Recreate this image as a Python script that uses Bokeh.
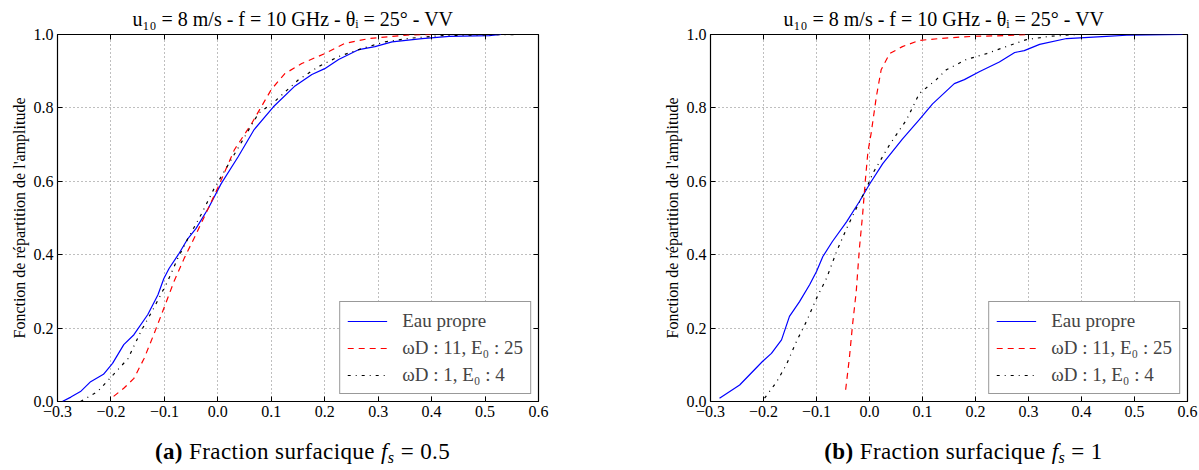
from bokeh.plotting import figure
from bokeh.models import (FixedTicker, LinearAxis, Legend, LegendItem, Div, Range1d,
                          CustomJSTickFormatter)
from bokeh.layouts import row, column
from bokeh.embed import file_html
from bokeh.resources import INLINE

# ---------------- data ----------------
x_ticks = [-0.3, -0.2, -0.1, 0.0, 0.1, 0.2, 0.3, 0.4, 0.5, 0.6]
x_tick_labels = ["\u22120.3", "\u22120.2", "\u22120.1", "0.0", "0.1", "0.2", "0.3", "0.4", "0.5", "0.6"]
y_ticks = [0.0, 0.2, 0.4, 0.6, 0.8, 1.0]
y_tick_labels = ["0.0", "0.2", "0.4", "0.6", "0.8", "1.0"]

title_text = "u\u2081\u2080 = 8 m/s - f = 10 GHz  - \u03b8\u1d62 = 25\u00b0  - VV"
y_label = "Fonction de r\u00e9partition de l'amplitude"
legend_labels = ["Eau propre", "\u03c9D : 11, E\u2080 : 25", "\u03c9D : 1, E\u2080 : 4"]

# (a) fs = 0.5
xa_eau = [-0.291, -0.275, -0.257, -0.238, -0.214, -0.197, -0.176, -0.157, -0.131, -0.112, -0.101,
          -0.091, -0.074, -0.056, -0.041, -0.018, 0.006, 0.038, 0.068, 0.104, 0.143, 0.176, 0.2,
          0.226, 0.264, 0.294, 0.326, 0.382, 0.433, 0.508, 0.53]
ya_eau = [0.0, 0.012, 0.027, 0.054, 0.074, 0.104, 0.155, 0.182, 0.237, 0.291, 0.335, 0.363, 0.4,
          0.444, 0.471, 0.526, 0.593, 0.667, 0.741, 0.803, 0.858, 0.891, 0.907, 0.932, 0.959,
          0.967, 0.98, 0.989, 0.995, 0.997, 1.0]
xa_w11 = [-0.195, -0.176, -0.157, -0.138, -0.12, -0.101, -0.082, -0.063, -0.041, -0.018, 0.001,
          0.031, 0.063, 0.1, 0.125, 0.157, 0.2, 0.238, 0.283, 0.326, 0.36, 0.4]
ya_w11 = [0.014, 0.036, 0.063, 0.117, 0.182, 0.254, 0.327, 0.39, 0.455, 0.526, 0.586, 0.686, 0.757,
          0.85, 0.893, 0.921, 0.948, 0.976, 0.989, 0.995, 0.999, 1.0]
xa_w1 = [-0.257, -0.225, -0.195, -0.168, -0.144, -0.12, -0.094, -0.075, -0.056, -0.031, -0.007,
         0.025, 0.076, 0.106, 0.151, 0.189, 0.226, 0.27, 0.313, 0.36, 0.42, 0.5, 0.56]
ya_w1 = [0.0, 0.027, 0.074, 0.117, 0.191, 0.254, 0.327, 0.39, 0.444, 0.51, 0.58, 0.659, 0.785,
         0.817, 0.877, 0.913, 0.94, 0.962, 0.98, 0.99, 0.997, 0.999, 1.0]

# (b) fs = 1
xb_eau = [-0.283, -0.245, -0.202, -0.185, -0.166, -0.151, -0.132, -0.113, -0.1, -0.088, -0.07,
          -0.043, -0.019, 0.0, 0.025, 0.062, 0.094, 0.119, 0.16, 0.179, 0.208, 0.245, 0.274, 0.292,
          0.321, 0.372, 0.447, 0.485, 0.594]
yb_eau = [0.009, 0.045, 0.109, 0.131, 0.168, 0.232, 0.272, 0.318, 0.354, 0.395, 0.436, 0.49,
          0.545, 0.592, 0.648, 0.715, 0.768, 0.811, 0.866, 0.877, 0.899, 0.925, 0.951, 0.956,
          0.973, 0.989, 0.995, 0.998, 1.0]
xb_w11 = [-0.045, -0.038, -0.032, -0.025, -0.019, -0.013, -0.008, -0.003, 0.003, 0.013, 0.022,
          0.038, 0.062, 0.094, 0.132, 0.194, 0.258, 0.296]
yb_w11 = [0.032, 0.118, 0.209, 0.3, 0.418, 0.509, 0.6, 0.68, 0.73, 0.831, 0.904, 0.948, 0.967,
          0.984, 0.989, 0.995, 0.997, 1.0]
xb_w1 = [-0.198, -0.175, -0.157, -0.138, -0.119, -0.1, -0.081, -0.062, -0.043, -0.025, -0.006,
         0.006, 0.038, 0.07, 0.094, 0.126, 0.145, 0.183, 0.221, 0.258, 0.296, 0.34, 0.39, 0.45]
yb_w1 = [0.009, 0.054, 0.1, 0.163, 0.218, 0.281, 0.336, 0.409, 0.472, 0.526, 0.58, 0.621, 0.7,
         0.768, 0.839, 0.877, 0.904, 0.932, 0.948, 0.967, 0.986, 0.995, 1.0, 1.0]

FONT = "Liberation Serif"


def make_panel(series, width, border_left, border_right):
    p = figure(width=width, height=433, output_backend="svg", toolbar_location=None,
               x_range=Range1d(-0.3, 0.6), y_range=Range1d(0.0, 1.0),
               min_border_left=border_left, min_border_right=border_right,
               min_border_top=34, min_border_bottom=32)
    p.title.text = title_text
    p.title.text_font = FONT
    p.title.text_font_size = "20px"
    p.title.text_font_style = "normal"
    p.title.align = "center"
    p.title.standoff = 9
    p.title.text_color = "black"
    p.outline_line_color = "black"
    p.outline_line_width = 1.2
    p.background_fill_color = "white"
    p.border_fill_color = "white"

    p.xaxis.ticker = FixedTicker(ticks=x_ticks)
    p.yaxis.ticker = FixedTicker(ticks=y_ticks)
    p.xaxis.formatter = CustomJSTickFormatter(code="return tick.toFixed(1).replace('-', '\u2212')")
    p.yaxis.formatter = CustomJSTickFormatter(code="return tick.toFixed(1)")
    p.xaxis.major_label_overrides = dict(zip(x_ticks, x_tick_labels))
    p.yaxis.major_label_overrides = dict(zip(y_ticks, y_tick_labels))
    for ax in (p.xaxis, p.yaxis):
        ax.major_tick_in = 5
        ax.major_tick_out = 0
        ax.minor_tick_line_color = None
        ax.axis_line_color = None
        ax.major_label_text_font = FONT
        ax.major_label_text_font_size = "16px"
        ax.major_label_text_color = "black"
        ax.major_label_standoff = 4
    p.yaxis.axis_label = y_label
    p.yaxis.axis_label_text_font = FONT
    p.yaxis.axis_label_text_font_size = "16px"
    p.yaxis.axis_label_text_font_style = "normal"
    p.yaxis.axis_label_text_color = "black"
    p.yaxis.axis_label_standoff = 3

    for side, tk in (("right", y_ticks), ("above", x_ticks)):
        ax = LinearAxis(ticker=FixedTicker(ticks=tk), major_tick_in=5, major_tick_out=0,
                        minor_tick_line_color=None, axis_line_color=None,
                        formatter=CustomJSTickFormatter(code="return ''"))
        p.add_layout(ax, side)

    p.grid.grid_line_color = "#7f7f7f"
    p.grid.grid_line_dash = "1 3"
    p.grid.grid_line_width = 1

    (xe, ye), (x11, y11), (x1, y1) = series
    r1 = p.line(xe, ye, line_color="#0000ff", line_width=1.2)
    r2 = p.line(x11, y11, line_color="#ff0000", line_width=1.2, line_dash="6 5")
    r3 = p.line(x1, y1, line_color="black", line_width=1.2, line_dash="3 5 1 5")

    leg = Legend(items=[LegendItem(label=legend_labels[0], renderers=[r1]),
                        LegendItem(label=legend_labels[1], renderers=[r2]),
                        LegendItem(label=legend_labels[2], renderers=[r3])],
                 location="bottom_right")
    leg.label_text_font = FONT
    leg.label_text_font_size = "19px"
    leg.label_height = 23
    leg.border_line_color = "#333333"
    leg.border_line_width = 1.5
    leg.background_fill_alpha = 1
    leg.glyph_width = 40
    leg.glyph_height = 20
    leg.label_standoff = 15
    leg.spacing = 4
    leg.padding = 7
    leg.margin = 7
    p.add_layout(leg)
    return p


pa = make_panel([(xa_eau, ya_eau), (xa_w11, ya_w11), (xa_w1, ya_w1)], 600, 57, 62)
pb = make_panel([(xb_eau, yb_eau), (xb_w11, yb_w11), (xb_w1, yb_w1)], 599, 110, 12)

cap_style = ("font-family:'Liberation Serif';font-size:23px;letter-spacing:0.4px;color:black;"
             "text-align:center;padding-top:1px;line-height:26px;white-space:nowrap;")
sub_style = "line-height:0;font-size:70%;vertical-align:-0.25em;"
da = Div(text='<div style="margin-left:57px;width:481px;%s"><b>(a)</b> Fraction surfacique '
              '<i>f<span style="%s">s</span></i> = 0.5</div>' % (cap_style, sub_style),
         width=600, height=34)
db = Div(text='<div style="margin-left:110px;width:477px;%s"><b>(b)</b> Fraction surfacique '
              '<i>f<span style="%s">s</span></i> = 1</div>' % (cap_style, sub_style),
         width=599, height=34)

layout = column(row(pa, pb), row(da, db))
open("out.html", "w").write(file_html(layout, INLINE))
